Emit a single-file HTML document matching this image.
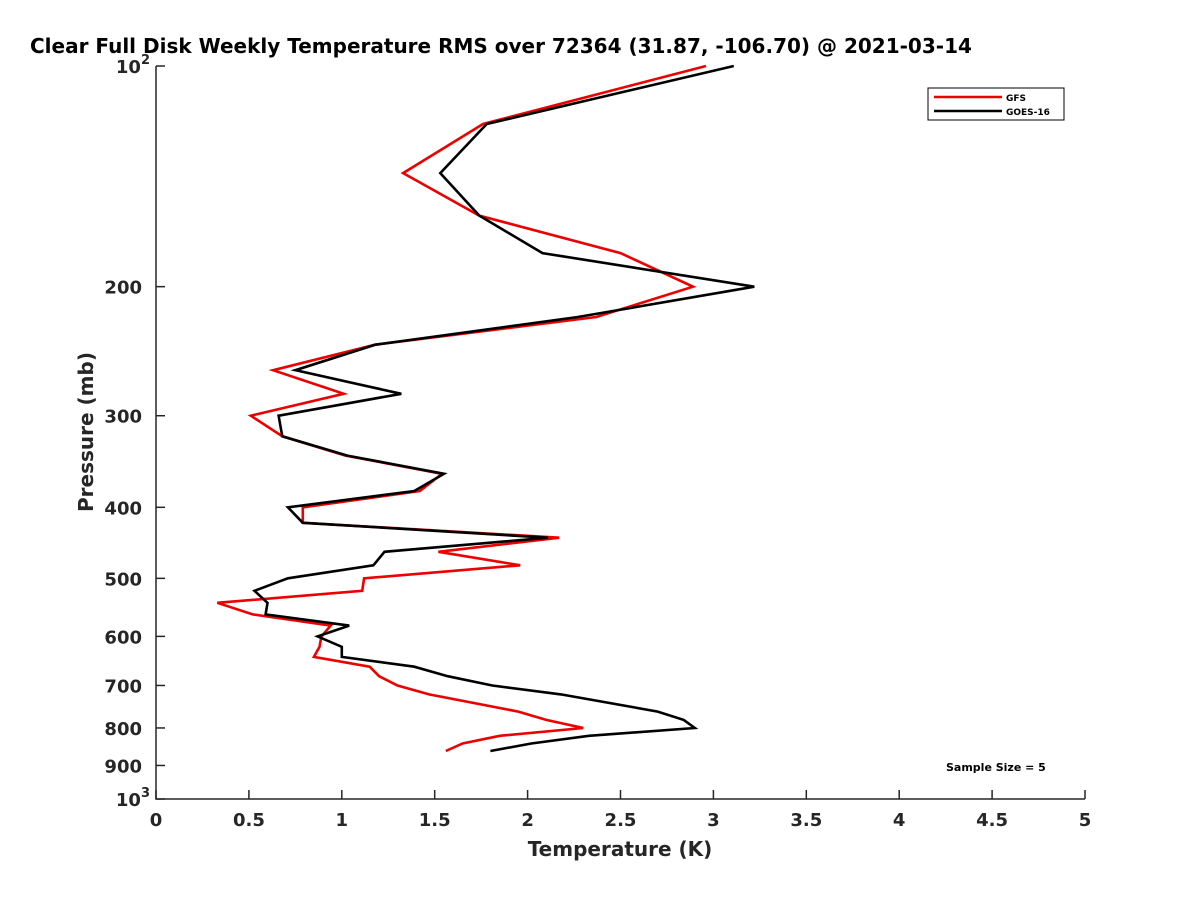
<!DOCTYPE html>
<html><head><meta charset="utf-8"><style>
body{margin:0;background:#fff;}
svg text{font-family:"DejaVu Sans","Liberation Sans",sans-serif;font-weight:bold;fill:#262626;}
</style></head><body>
<svg width="1200" height="900" xmlns="http://www.w3.org/2000/svg">
<rect width="1200" height="900" fill="#fff"/>
<text x="30" y="53" font-size="20" style="fill:#000">Clear Full Disk Weekly Temperature RMS over 72364 (31.87, -106.70) @ 2021-03-14</text>
<g id="axes"></g>
<g id="series"></g>
<g>
<rect x="928" y="88" width="136" height="32" fill="#fff" stroke="#000" stroke-width="1"/>
<line x1="934" y1="97" x2="1002" y2="97" stroke="#e00" stroke-width="2.5"/>
<text x="1006" y="101" font-size="9" style="fill:#000">GFS</text>
<line x1="934" y1="111" x2="1002" y2="111" stroke="#000" stroke-width="2.5"/>
<text x="1006" y="115" font-size="9" style="fill:#000">GOES-16</text>
</g>
<text x="946" y="771" font-size="11" style="fill:#000">Sample Size = 5</text>
<text x="620" y="856" font-size="20" text-anchor="middle">Temperature (K)</text>
<text transform="translate(93,432) rotate(-90)" font-size="20" text-anchor="middle">Pressure (mb)</text>
</svg>
<script>
const pressures=[100,120,140,160,180,200,220,240,260,280,300,320,340,360,380,400,420,440,460,480,500,520,540,560,580,600,620,640,660,680,700,720,760,780,800,820,840,860];
const gfsRms=[2.96,1.76,1.33,1.74,2.50,2.89,2.37,1.18,0.63,1.01,0.51,0.68,1.02,1.54,1.42,0.79,0.79,2.17,1.52,1.96,1.12,1.11,0.33,0.52,0.94,0.89,0.88,0.85,1.15,1.20,1.30,1.47,1.95,2.10,2.30,1.85,1.65,1.56];
const goesRms=[3.11,1.78,1.53,1.74,2.08,3.22,2.27,1.18,0.75,1.32,0.66,0.68,1.03,1.55,1.39,0.71,0.79,2.11,1.23,1.17,0.71,0.53,0.60,0.59,1.04,0.87,1.00,1.00,1.39,1.57,1.81,2.18,2.70,2.84,2.90,2.33,2.02,1.80];
const xTicks=[0,0.5,1,1.5,2,2.5,3,3.5,4,4.5,5];
const yTicks=[100,200,300,400,500,600,700,800,900,1000];
const NS="http://www.w3.org/2000/svg";
const X0=156,X1=1085,Y0=66,Y1=799;
function xs(v){return X0+(v-0)/(5-0)*(X1-X0);}
function ys(p){return Y0+(Math.log10(p)-2)*(Y1-Y0);}
function mk(tag,attrs,parent){const e=document.createElementNS(NS,tag);for(const k in attrs)e.setAttribute(k,attrs[k]);parent.appendChild(e);return e;}
const axes=document.getElementById('axes');
const ax=mk('path',{d:`M${X0},${Y0}V${Y1}H${X1}`,fill:'none',stroke:'#262626','stroke-width':1.5},axes);


xTicks.forEach(t=>{
 const x=xs(t);
 mk('line',{x1:x,y1:Y1,x2:x,y2:Y1-9,stroke:'#262626','stroke-width':1.5},axes);
 const tx=mk('text',{x:x,y:Y1+27,'font-size':18,'text-anchor':'middle'},axes);
 tx.textContent=String(t);
 
 
});
yTicks.forEach(t=>{
 const y=ys(t);
 mk('line',{x1:X0,y1:y,x2:X0+9,y2:y,stroke:'#262626','stroke-width':1.5},axes);
 const tx=mk('text',{x:X0-14,y:y+7,'font-size':18,'text-anchor':'end'},axes);
 if(t===100||t===1000){
   tx.textContent='10';
   const s=mk('tspan',{dy:-9,'font-size':13},tx);
   s.textContent=t===100?'2':'3';
   tx.setAttribute('x',X0-6);
 } else tx.textContent=String(t);
 
 
});
const g=document.getElementById('series');
function line(vals,color,name){
 const pts=vals.map((v,i)=>xs(v).toFixed(1)+','+ys(pressures[i]).toFixed(1)).join(' ');
 const pl=mk('polyline',{points:pts,fill:'none',stroke:color,'stroke-width':2.6,'stroke-linejoin':'miter'},g);
 
 
}
line(gfsRms,'#e00','gfs-line');
line(goesRms,'#000','goes16-line');
</script>
</body></html>
